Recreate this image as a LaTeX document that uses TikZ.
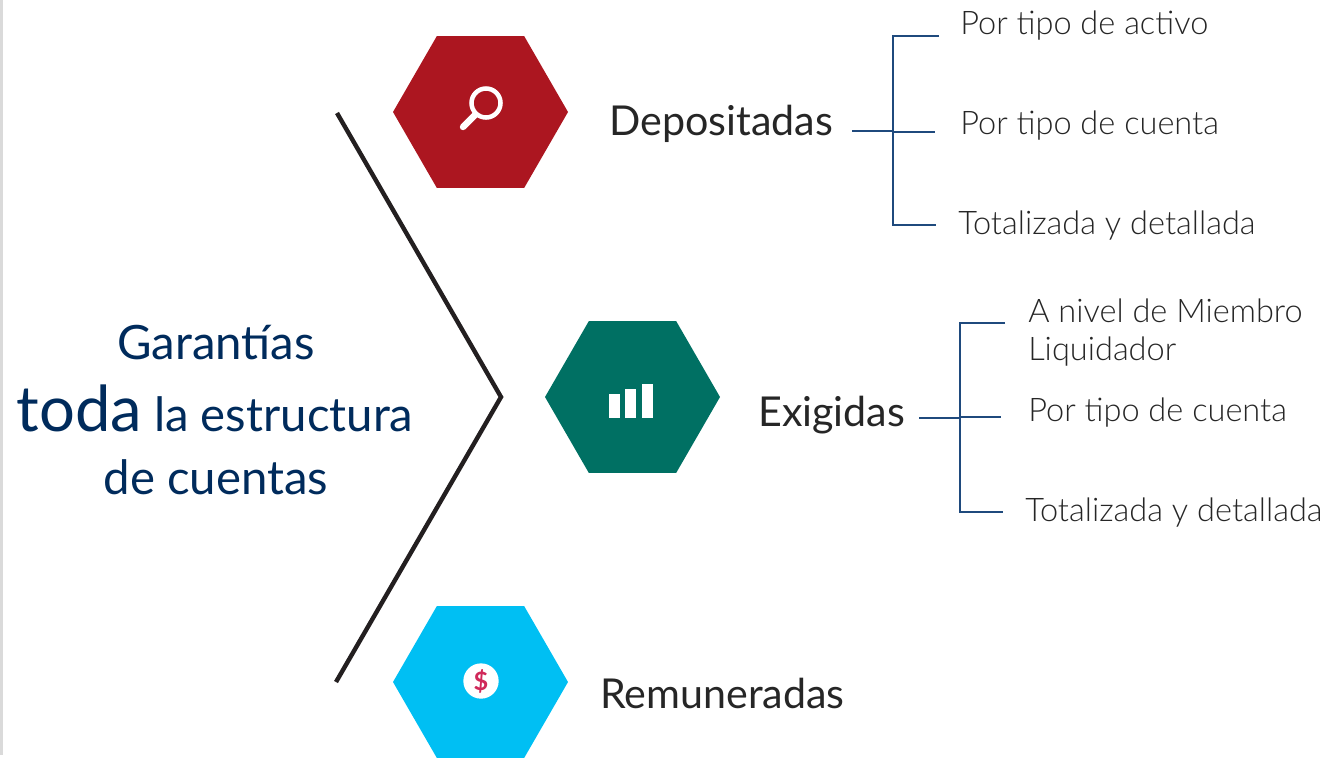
\documentclass[tikz,border=0pt]{standalone}
\usepackage{fontspec}
\setmainfont{Lato}
\newfontfamily\lightfont{Lato Light}
\usepackage{xcolor}
\usetikzlibrary{shapes.geometric}
\definecolor{hexred}{HTML}{AC1620}
\definecolor{hexgreen}{HTML}{007063}
\definecolor{hexcyan}{HTML}{00BFF3}
\definecolor{titlenavy}{HTML}{002B5C}
\definecolor{bracketblue}{HTML}{1F4A7D}
\definecolor{chevrongray}{HTML}{231F20}
\definecolor{labelgray}{HTML}{262626}
\definecolor{dollarred}{HTML}{D0295A}
\definecolor{stripgray}{HTML}{DADADA}
\tikzset{
    hexa/.style={regular polygon, regular polygon sides=6, minimum size=131.25pt, inner sep=0pt, outer sep=0pt, draw=none},
    mainlabel/.style={anchor=base west, inner sep=0pt, text=labelgray, font=\fontsize{30.9}{31}\selectfont},
    sublabel/.style={anchor=base west, inner sep=0pt, text=labelgray, font=\lightfont\fontsize{24.4}{24.4}\selectfont},
    titlelabel/.style={anchor=base, inner sep=0pt, text=titlenavy, font=\fontsize{35.5}{35.5}\selectfont},
    bracketline/.style={draw=bracketblue, line width=0.9pt},
}
\begin{document}
\begin{tikzpicture}[x=0.75pt,y=0.75pt,yscale=-1,xscale=1]
        \useasboundingbox (0,0) rectangle (1337,758);
        %Left strip
        \fill[stripgray] (0,0) rectangle (3,755);

        %Chevron
        \coordinate (chevtop) at (337,113);
        \coordinate (chevtip) at (501,397);
        \coordinate (chevbot) at (336,682);
        \draw[chevrongray, line width=3.3pt, miter limit=10] (chevtop) -- (chevtip) -- (chevbot);

        %Hexagons
        \node[hexa, fill=hexred] (hexdepo) at (480.5,112) {};
        \node[hexa, fill=hexgreen] (hexexig) at (632.5,397) {};
        \node[hexa, fill=hexcyan] (hexremu) at (480.5,682) {};

        %Magnifier icon
        \draw[white, line width=3.4pt] (486,103) circle (14.5);
        \draw[white, line width=4.8pt, line cap=round] (475,115) -- (463,127);

        %Bars icon
        \fill[white] (609,394) rectangle (620,418);
        \fill[white] (625,389) rectangle (636,418);
        \fill[white] (642,384) rectangle (653,418);

        %Coin icon
        \node[circle, fill=white, minimum size=26.5pt, inner sep=0pt, text=dollarred, font=\fontsize{19}{19}\bfseries\selectfont] (coin) at (481,681) {\$};

        %Title
        \node[titlelabel] (titleone) at (216,359) {Garantías};
        \node[titlelabel] (titletwo) at (215,431) {{\fontsize{47.5}{47.5}\selectfont toda} la estructura};
        \node[titlelabel] (titlethree) at (216,494) {de cuentas};

        %Main labels
        \node[mainlabel] (depo) at (609,135) {Depositadas};
        \node[mainlabel] (exig) at (758,426) {Exigidas};
        \node[mainlabel] (remu) at (600,708) {Remuneradas};

        %Labels of Depositadas
        \node[sublabel] (depoa) at (960,34) {Por tipo de activo};
        \node[sublabel] (depob) at (960,134) {Por tipo de cuenta};
        \node[sublabel] (depoc) at (958,234) {Totalizada y detallada};

        %Labels of Exigidas
        \node[sublabel] (exiga) at (1028,322) {A nivel de Miembro};
        \node[sublabel] (exigaa) at (1028,360) {Liquidador};
        \node[sublabel] (exigb) at (1028,421) {Por tipo de cuenta};
        \node[sublabel] (exigc) at (1025,521) {Totalizada y detallada};

        %Bracket of Depositadas
        \coordinate (depostem) at (852,131);
        \coordinate (depojoin) at (893,131);
        \coordinate (depotop) at (893,36);
        \coordinate (depobot) at (893,225);
        \coordinate (depoendt) at (939,36);
        \coordinate (depomid) at (893,132);
        \coordinate (depoendm) at (935,132);
        \coordinate (depoendb) at (936,225);
        \draw[bracketline] (depostem) -- (depojoin);
        \draw[bracketline] (depoendt) -- (depotop) -- (depobot) -- (depoendb);
        \draw[bracketline] (depomid) -- (depoendm);

        %Bracket of Exigidas
        \coordinate (exigstem) at (919,418);
        \coordinate (exigjoin) at (960,418);
        \coordinate (exigtop) at (960,323);
        \coordinate (exigbot) at (960,512);
        \coordinate (exigendt) at (1005,323);
        \coordinate (exigmid) at (960,417);
        \coordinate (exigendm) at (1001,417);
        \coordinate (exigendb) at (1003,512);
        \draw[bracketline] (exigstem) -- (exigjoin);
        \draw[bracketline] (exigendt) -- (exigtop) -- (exigbot) -- (exigendb);
        \draw[bracketline] (exigmid) -- (exigendm);

    \end{tikzpicture}
\end{document}
